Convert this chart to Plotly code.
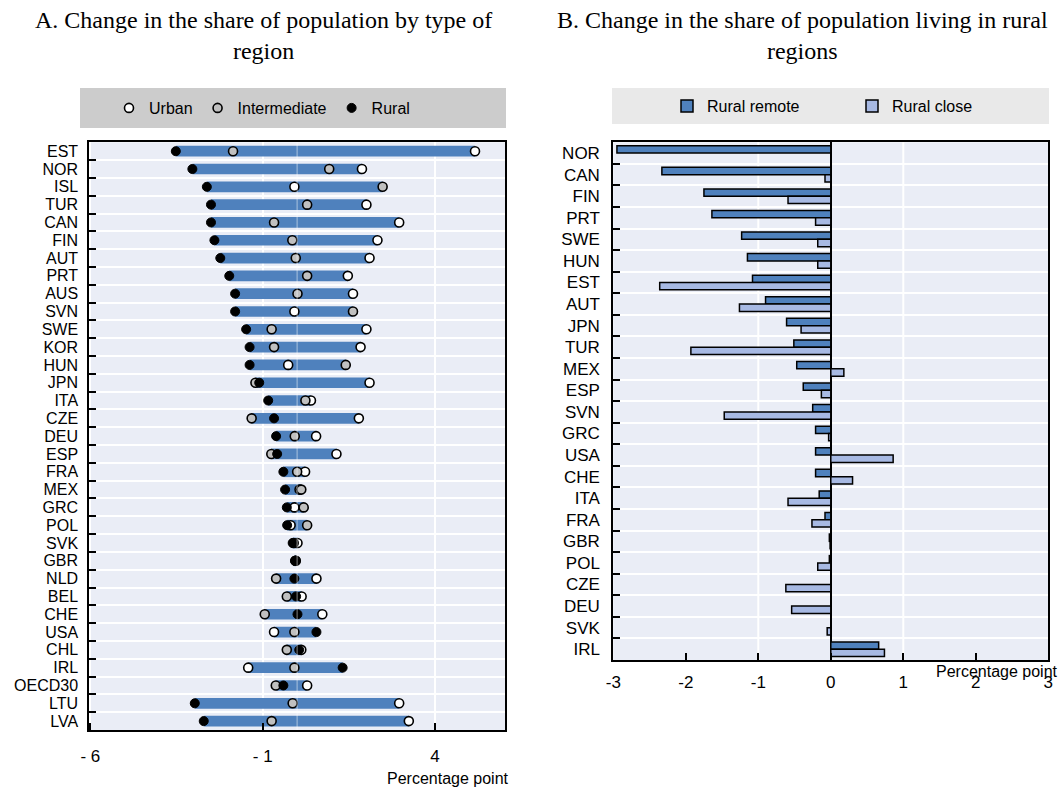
import plotly.graph_objects as go

# ---------------- Data ----------------
countries_a = ["EST", "NOR", "ISL", "TUR", "CAN", "FIN", "AUT", "PRT", "AUS", "SVN",
               "SWE", "KOR", "HUN", "JPN", "ITA", "CZE", "DEU", "ESP", "FRA", "MEX",
               "GRC", "POL", "SVK", "GBR", "NLD", "BEL", "CHE", "USA", "CHL", "IRL",
               "OECD30", "LTU", "LVA"]
urban = [5.16, 1.88, -0.08, 2.01, 2.96, 2.33, 2.10, 1.47, 1.62, -0.08,
         2.01, 1.84, -0.26, 2.10, 0.40, 1.79, 0.55, 1.14, 0.23, 0.07,
         -0.08, -0.19, 0.01, -0.04, 0.56, 0.13, 0.73, -0.67, 0.12, -1.42,
         0.29, 2.96, 3.24]
intermediate = [-1.86, 0.93, 2.48, 0.29, -0.67, -0.14, -0.04, 0.29, 0.01, 1.62,
                -0.74, -0.67, 1.41, -1.21, 0.24, -1.32, -0.07, -0.75, 0.00, 0.12,
                0.19, 0.29, -0.10, -0.05, -0.61, -0.30, -0.94, -0.08, -0.30, -0.08,
                -0.62, -0.13, -0.74]
rural = [-3.52, -3.04, -2.62, -2.50, -2.50, -2.40, -2.23, -1.97, -1.80, -1.80,
         -1.48, -1.38, -1.38, -1.10, -0.84, -0.67, -0.61, -0.58, -0.40, -0.35,
         -0.30, -0.29, -0.13, -0.06, -0.08, -0.03, 0.01, 0.56, 0.06, 1.32,
         -0.40, -2.97, -2.71]

countries_b = ["NOR", "CAN", "FIN", "PRT", "SWE", "HUN", "EST", "AUT", "JPN", "TUR",
               "MEX", "ESP", "SVN", "GRC", "USA", "CHE", "ITA", "FRA", "GBR", "POL",
               "CZE", "DEU", "SVK", "IRL"]
rural_remote = [-2.95, -2.33, -1.75, -1.64, -1.23, -1.15, -1.08, -0.90, -0.61, -0.51,
                -0.47, -0.38, -0.25, -0.21, -0.21, -0.21, -0.16, -0.08, -0.02, -0.02,
                0.0, 0.0, 0.0, 0.66]
rural_close = [0.0, -0.08, -0.59, -0.21, -0.18, -0.18, -2.36, -1.26, -0.41, -1.93,
               0.18, -0.13, -1.47, -0.03, 0.86, 0.30, -0.59, -0.26, -0.01, -0.18,
               -0.62, -0.54, -0.05, 0.74]

xtick_vals_a = [-6, -1, 4]
xtick_text_a = ["- 6", "- 1", "4"]
xtick_vals_b = [-3, -2, -1, 0, 1, 2, 3]
xtick_text_b = ["-3", "-2", "-1", "0", "1", "2", "3"]

# ---------------- Styles ----------------
W, H = 1062, 787
SANS = "Liberation Sans, Arial, sans-serif"
SERIF = "Liberation Serif, Times New Roman, serif"
BG = "#eaedf6"
BLUE = "#4f81bd"
LIGHT = "#a7b9e3"


def px_x(p):
    return p / W


def px_y(p):
    return 1 - p / H


lo = [min(a, b, c) for a, b, c in zip(urban, intermediate, rural)]
hi = [max(a, b, c) for a, b, c in zip(urban, intermediate, rural)]
span = [h - l for h, l in zip(hi, lo)]

fig = go.Figure()

# Panel A: range bars
fig.add_trace(go.Bar(
    y=countries_a, x=span, base=lo, orientation="h",
    marker=dict(color=BLUE, line=dict(width=0)), width=0.6,
    xaxis="x", yaxis="y", showlegend=False, hoverinfo="skip"))

fig.add_trace(go.Scatter(
    y=countries_a, x=urban, mode="markers", name="Urban",
    marker=dict(size=9, color="white", line=dict(color="black", width=1.6)),
    xaxis="x", yaxis="y", legend="legend"))
fig.add_trace(go.Scatter(
    y=countries_a, x=intermediate, mode="markers", name="Intermediate",
    marker=dict(size=9, color="#c0c0c0", line=dict(color="black", width=1.6)),
    xaxis="x", yaxis="y", legend="legend"))
fig.add_trace(go.Scatter(
    y=countries_a, x=rural, mode="markers", name="Rural",
    marker=dict(size=9, color="black", line=dict(color="black", width=1)),
    xaxis="x", yaxis="y", legend="legend"))

# Panel B: grouped bars
fig.add_trace(go.Bar(
    y=countries_b, x=rural_remote, orientation="h", name="Rural remote",
    marker=dict(color=BLUE, line=dict(color="black", width=1.5)),
    xaxis="x2", yaxis="y2", legend="legend2"))
fig.add_trace(go.Bar(
    y=countries_b, x=rural_close, orientation="h", name="Rural close",
    marker=dict(color=LIGHT, line=dict(color="black", width=1.5)),
    xaxis="x2", yaxis="y2", legend="legend2"))

axis_common = dict(showline=True, linecolor="black", linewidth=2, mirror=True,
                   ticks="inside", tickcolor="black", ticklen=7, tickwidth=1.5,
                   automargin=False)

fig.update_layout(
    width=W, height=H,
    margin=dict(l=0, r=0, t=0, b=0, autoexpand=False),
    paper_bgcolor="white",
    plot_bgcolor=BG,
    barmode="group", bargap=0.32, bargroupgap=0.0,
    font=dict(family=SANS, size=16, color="black"),
    xaxis=dict(domain=[px_x(89.3), px_x(505)], range=[-6.03, 6.03],
               tickvals=xtick_vals_a, ticktext=xtick_text_a,
               showgrid=True, gridcolor="white", gridwidth=2, zeroline=False,
               tickfont=dict(size=17), ticklabelstandoff=10,
               anchor="y", **axis_common),
    yaxis=dict(domain=[px_y(730), px_y(142.3)],
               range=[len(countries_a) - 0.5, -0.5],
               type="category", tickson="boundaries",
               tickmode="linear", tick0=0, dtick=1,
               showgrid=True, gridcolor="white", gridwidth=2,
               tickfont=dict(size=16), ticklabelstandoff=6,
               anchor="x", **axis_common),
    xaxis2=dict(domain=[px_x(613.3), px_x(1048.3)], range=[-3, 3],
                tickvals=xtick_vals_b, ticktext=xtick_text_b,
                showgrid=False, zeroline=True, zerolinecolor="black", zerolinewidth=1.5,
                tickfont=dict(size=17), ticklabelstandoff=6,
                anchor="y2", **axis_common),
    yaxis2=dict(domain=[px_y(660), px_y(142.3)],
                range=[len(countries_b) - 0.5, -0.5],
                type="category", tickson="boundaries",
                tickmode="linear", tick0=0, dtick=1,
                showgrid=True, gridcolor="white", gridwidth=2,
                tickfont=dict(size=17), ticklabelstandoff=8,
                anchor="x2", **axis_common),
    legend=dict(orientation="h", x=px_x(262), xanchor="center",
                y=px_y(108), yanchor="middle", bgcolor="rgba(0,0,0,0)",
                font=dict(size=16, family=SANS), itemwidth=30,
                traceorder="normal"),
    legend2=dict(orientation="h", x=px_x(852), xanchor="center",
                 y=px_y(106), yanchor="middle", bgcolor="rgba(0,0,0,0)",
                 font=dict(size=16, family=SANS), itemwidth=30,
                 entrywidth=140, traceorder="normal"),
)

# legend backgrounds
fig.add_shape(type="rect", xref="paper", yref="paper",
              x0=px_x(80), x1=px_x(506), y0=px_y(128), y1=px_y(88),
              fillcolor="#cccccc", line=dict(width=0), layer="below")
fig.add_shape(type="rect", xref="paper", yref="paper",
              x0=px_x(612), x1=px_x(1049), y0=px_y(124), y1=px_y(88),
              fillcolor="#e9e9e9", line=dict(width=0), layer="below")

# faint zero line in panel A drawn over bars
fig.add_shape(type="line", xref="x", yref="y domain", x0=0, x1=0, y0=0, y1=1,
              line=dict(color="rgba(255,255,255,0.35)", width=1.5), layer="above")
# panel B gridlines at -1 and 1
for gx in (-1, 1):
    fig.add_shape(type="line", xref="x2", yref="y2 domain", x0=gx, x1=gx, y0=0, y1=1,
                  line=dict(color="white", width=2), layer="below")

# titles
fig.add_annotation(text="A. Change in the share of population by type of<br>region",
                   xref="paper", yref="paper", x=px_x(263), y=px_y(5),
                   xanchor="center", yanchor="top", showarrow=False, align="center",
                   font=dict(family=SERIF, size=24))
fig.add_annotation(text="B. Change in the share of population living in rural<br>regions",
                   xref="paper", yref="paper", x=px_x(802), y=px_y(5),
                   xanchor="center", yanchor="top", showarrow=False, align="center",
                   font=dict(family=SERIF, size=24))
fig.add_annotation(text="Percentage point", xref="paper", yref="paper",
                   x=px_x(1060), y=px_y(671), xanchor="right", yanchor="middle",
                   showarrow=False, font=dict(size=16))
fig.add_annotation(text="Percentage point", xref="paper", yref="paper",
                   x=px_x(511), y=px_y(778), xanchor="right", yanchor="middle",
                   showarrow=False, font=dict(size=16))

fig.write_html("out.html")
